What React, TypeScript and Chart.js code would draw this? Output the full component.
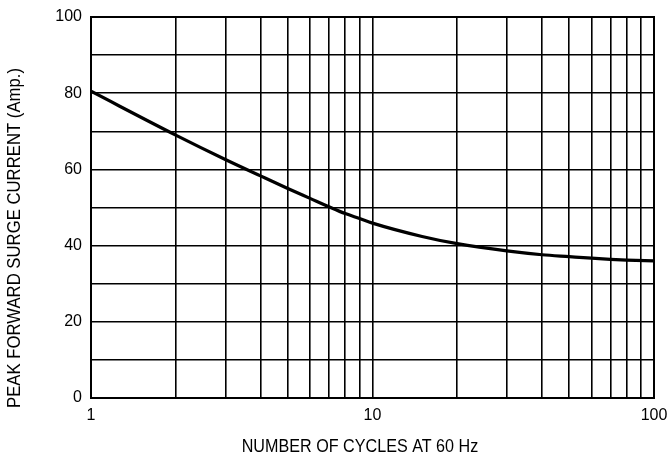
import React, { useEffect, useRef } from "react";
import { Chart, registerables } from "chart.js";

Chart.register(...registerables);

const cycles = [1, 2, 3, 4, 5, 6, 7, 8, 9, 10, 15, 20, 30, 40, 50, 60, 70, 80, 100];
const surgeCurrent = [80.5, 69, 62.6, 58.3, 55.0, 52.4, 50.2, 48.4, 47.1, 45.9, 42.4, 40.5, 38.6, 37.6, 37.1, 36.7, 36.4, 36.2, 36.0];
const xGridValues = [1, 2, 3, 4, 5, 6, 7, 8, 9, 10, 20, 30, 40, 50, 60, 70, 80, 90, 100];
const xTickLabels = [1, 10, 100];
const yTickLabels = [0, 20, 40, 60, 80, 100];
const xTitle = "NUMBER OF CYCLES AT 60 Hz";
const yTitle = "PEAK FORWARD SURGE CURRENT (Amp.)";

const FONT = "'Liberation Sans', Arial, sans-serif";

const titlePlugin = {
  id: "axisTitles",
  afterDraw(chart: any) {
    const ctx = chart.ctx;
    ctx.save();
    ctx.fillStyle = "#000";
    ctx.font = `19px ${FONT}`;
    ctx.textAlign = "center";
    ctx.textBaseline = "middle";
    ctx.save();
    ctx.translate(360, 447);
    ctx.scale(0.85, 1);
    ctx.fillText(xTitle, 0, 0);
    ctx.restore();
    ctx.save();
    ctx.translate(15, 238);
    ctx.rotate(-Math.PI / 2);
    ctx.scale(0.88, 1);
    ctx.fillText(yTitle, 0, 0);
    ctx.restore();
    ctx.restore();
  },
};

export default function App() {
  const ref = useRef<HTMLCanvasElement | null>(null);
  useEffect(() => {
    if (!ref.current) return;
    const chart = new Chart(ref.current, {
      type: "line",
      data: {
        datasets: [
          {
            data: cycles.map((c, i) => ({ x: c, y: surgeCurrent[i] })),
            borderColor: "#000",
            borderWidth: 3.2,
            pointRadius: 0,
            cubicInterpolationMode: "monotone",
            fill: false,
          },
        ],
      },
      options: {
        animation: false,
        responsive: false,
        maintainAspectRatio: false,
        layout: { padding: { left: 0, top: 17, right: 13, bottom: 0 } },
        plugins: { legend: { display: false }, tooltip: { enabled: false } },
        scales: {
          x: {
            type: "logarithmic",
            min: 1,
            max: 100,
            border: { display: true, color: "#000", width: 2 },
            grid: { color: "#000", lineWidth: 1.6, drawTicks: false },
            afterBuildTicks(scale: any) {
              scale.ticks = xGridValues.map((v) => ({ value: v }));
            },
            afterFit(scale: any) {
              scale.height = 70;
              scale.paddingLeft = 0;
              scale.paddingRight = 0;
            },
            ticks: {
              autoSkip: false,
              maxRotation: 0,
              padding: 8,
              color: "#000",
              font: { family: FONT, size: 16 },
              callback: (v: any) => (xTickLabels.includes(Number(v)) ? String(v) : ""),
            },
          },
          y: {
            min: 0,
            max: 100,
            border: { display: true, color: "#000", width: 2 },
            grid: { color: "#000", lineWidth: 1.6, drawTicks: false },
            afterFit(scale: any) {
              scale.width = 91;
              scale.paddingTop = 0;
              scale.paddingBottom = 0;
            },
            ticks: {
              stepSize: 10,
              padding: 9,
              color: "#000",
              font: { family: FONT, size: 16 },
              callback: (v: any) => (yTickLabels.includes(Number(v)) ? String(v) : ""),
            },
          },
        },
      },
      plugins: [
        titlePlugin,
        {
          id: "frameBorder",
          afterDatasetsDraw(c: any) {
            const a = c.chartArea;
            const ctx = c.ctx;
            ctx.save();
            ctx.strokeStyle = "#000";
            ctx.lineWidth = 2;
            ctx.strokeRect(a.left, a.top, a.right - a.left, a.bottom - a.top);
            ctx.restore();
          },
        },
      ],
    } as any);
    return () => chart.destroy();
  }, []);
  return (
    <div style={{ position: "fixed", left: 0, top: 0, width: 667, height: 468, background: "#fff" }}>
      <canvas ref={ref} width={667} height={468} style={{ width: 667, height: 468 }} />
    </div>
  );
}
